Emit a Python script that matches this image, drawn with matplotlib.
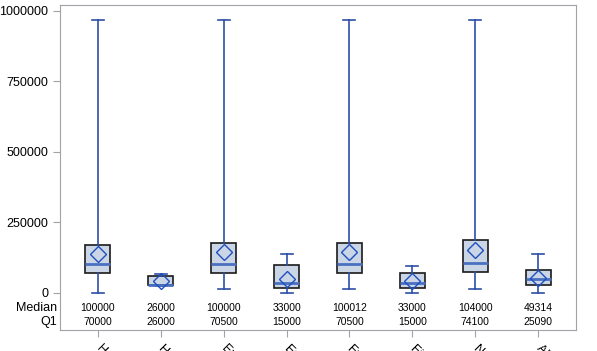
import matplotlib
matplotlib.use("Agg")
import matplotlib.pyplot as plt
from matplotlib.transforms import blended_transform_factory

plt.rcParams['font.family'] = ['Liberation Sans', 'DejaVu Sans']

categories = ["Hourly", "Hourly PT", "Exempt", "Exempt PT", "Full Time", "Fixed Term", "Non Exempt", "All Types"]
whislo = [0, 22000, 11500, 0, 11500, 0, 11500, 0]
q1 = [70000, 26000, 70500, 15000, 70500, 15000, 74100, 25090]
med = [100000, 26000, 100000, 33000, 100012, 33000, 104000, 49314]
q3 = [167500, 57500, 176000, 99000, 176000, 70500, 187500, 80000]
whishi = [966000, 67000, 966000, 138000, 966000, 93000, 966000, 138000]
mean = [137000, 41000, 143000, 49000, 143000, 41000, 152000, 50000]
yticks = [0, 250000, 500000, 750000, 1000000]

fig = plt.figure(figsize=(5.97, 3.51), dpi=100)
ax = fig.add_axes([60/597, 1-330/351, 516/597, 325/351])

stats = []
for i, c in enumerate(categories):
    stats.append(dict(label=c, whislo=whislo[i], q1=q1[i], med=med[i],
                      q3=q3[i], whishi=whishi[i], mean=mean[i]))

pos = list(range(1, len(categories)+1))
wcol = '#2d4fa6'
ax.bxp(stats, positions=pos, widths=0.39, patch_artist=True, showmeans=True,
       showfliers=False,
       boxprops=dict(facecolor='#cad5e6', edgecolor='#1a1a1a', linewidth=1.2),
       whiskerprops=dict(color=wcol, linewidth=1.2),
       capprops=dict(color=wcol, linewidth=1.2),
       medianprops=dict(color='#4a70c0', linewidth=2),
       meanprops=dict(marker='D', markerfacecolor='none', markeredgecolor='#1f4fbf',
                      markersize=8, markeredgewidth=1.0),
       capwidths=0.19)

ax.set_xlim(0.4, 8.6)
ax.set_ylim(-133000, 1021000)
ax.set_yticks(yticks)
ax.set_yticklabels([str(v) for v in yticks], fontsize=9)
ax.set_xticks(pos)
ax.set_xticklabels(categories, rotation=-45, ha='left', va='center',
                   rotation_mode='anchor', fontsize=9)
for s in ax.spines.values():
    s.set_color('#a0a3a8')
ax.tick_params(axis='both', colors='#a0a3a8', length=5, labelcolor='black')
ax.tick_params(axis='x', pad=7)

tr = blended_transform_factory(ax.transData, ax.transAxes)
for i in range(len(categories)):
    ax.text(pos[i], 0.0686, str(med[i]), transform=tr, ha='center', va='center', fontsize=7.5)
    ax.text(pos[i], 0.0237, str(q1[i]), transform=tr, ha='center', va='center', fontsize=7.5)
ax.text(-0.006, 0.0686, "Median", transform=ax.transAxes, ha='right', va='center', fontsize=9)
ax.text(-0.006, 0.0237, "Q1", transform=ax.transAxes, ha='right', va='center', fontsize=9)

fig.savefig("out.png", dpi=100)
